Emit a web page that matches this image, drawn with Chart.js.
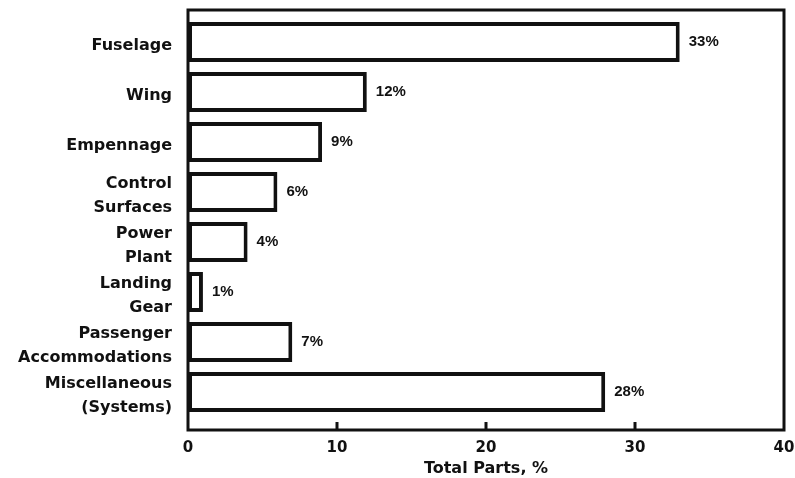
<!DOCTYPE html>
<html>
<head>
<meta charset="utf-8">
<script src="https://cdn.jsdelivr.net/npm/chart.js@4/dist/chart.umd.min.js"></script>
<style>
  html, body { margin: 0; padding: 0; background: #fff; }
  #wrap { width: 795px; height: 478px; }
</style>
</head>
<body>
<div id="wrap"><canvas id="c" width="795" height="478"></canvas></div>
<script>
// Share of total parts by airframe group
const categories = [
  'Fuselage',
  'Wing',
  'Empennage',
  ['Control', 'Surfaces'],
  ['Power', 'Plant'],
  ['Landing', 'Gear'],
  ['Passenger', 'Accommodations'],
  ['Miscellaneous', '(Systems)']
];
const partShare = [33, 12, 9, 6, 4, 1, 7, 28];
const xTicks = [0, 10, 20, 30, 40];
const innerTicks = [10, 20, 30];

const INK = '#111';

// Frame around the plot area plus short inward tick marks on the bottom edge
const framePlugin = {
  id: 'frame',
  afterDatasetsDraw(chart) {
    const { ctx, chartArea: a, scales } = chart;
    ctx.save();
    ctx.strokeStyle = INK;
    ctx.lineWidth = 3;
    ctx.strokeRect(a.left, a.top, a.right - a.left, a.bottom - a.top);
    innerTicks.forEach(v => {
      const x = scales.x.getPixelForValue(v);
      ctx.beginPath();
      ctx.moveTo(x, a.bottom);
      ctx.lineTo(x, a.bottom - 8);
      ctx.stroke();
    });
    ctx.restore();
  }
};

// Percentage labels just past the end of each bar
const valueLabelPlugin = {
  id: 'valueLabels',
  afterDatasetsDraw(chart) {
    const { ctx } = chart;
    const meta = chart.getDatasetMeta(0);
    ctx.save();
    ctx.fillStyle = INK;
    ctx.font = 'bold 15px "Liberation Sans", Arial, sans-serif';
    ctx.textAlign = 'left';
    ctx.textBaseline = 'middle';
    meta.data.forEach((bar, i) => {
      ctx.fillText(partShare[i] + '%', bar.x + 9, bar.y);
    });
    ctx.restore();
  }
};

new Chart(document.getElementById('c'), {
  type: 'bar',
  data: {
    datasets: [{
      data: partShare.map((v, i) => ({ x: v, y: i })),
      backgroundColor: '#fff',
      borderColor: INK,
      borderWidth: 4,
      borderSkipped: false,
      barPercentage: 0.8,
      categoryPercentage: 1
    }]
  },
  options: {
    indexAxis: 'y',
    responsive: false,
    animation: false,
    devicePixelRatio: 1,
    layout: { padding: { top: 10, right: 0, left: 0, bottom: 0 } },
    plugins: {
      legend: { display: false },
      tooltip: { enabled: false }
    },
    scales: {
      x: {
        type: 'linear',
        min: 0,
        max: 40,
        afterBuildTicks: s => { s.ticks = xTicks.map(v => ({ value: v })); },
        grid: { display: false, drawTicks: false },
        border: { display: false },
        ticks: {
          color: INK,
          padding: 9,
          font: { family: '"DejaVu Sans", sans-serif', weight: 'bold', size: 15 }
        },
        title: {
          display: true,
          text: 'Total Parts, %',
          color: INK,
          padding: 0,
          font: { family: '"DejaVu Sans", sans-serif', weight: 'bold', size: 16 }
        },
        afterFit: s => { s.height = 48; s.paddingLeft = 0; s.paddingRight = 11; }
      },
      y: {
        type: 'linear',
        reverse: true,
        offset: false,
        min: -0.64,
        max: 7.76,
        afterBuildTicks: s => { s.ticks = categories.map((_, i) => ({ value: i })); },
        grid: { display: false, drawTicks: false, offset: false },
        border: { display: false },
        ticks: {
          color: INK,
          padding: 16,
          labelOffset: 4,
          autoSkip: false,
          callback: v => categories[v],
          font: { family: '"DejaVu Sans", sans-serif', weight: 'bold', size: 16, lineHeight: 1.5 }
        },
        afterFit: s => { s.width = 188; s.paddingTop = 0; s.paddingBottom = 0; }
      }
    }
  },
  plugins: [framePlugin, valueLabelPlugin]
});
</script>
</body>
</html>
